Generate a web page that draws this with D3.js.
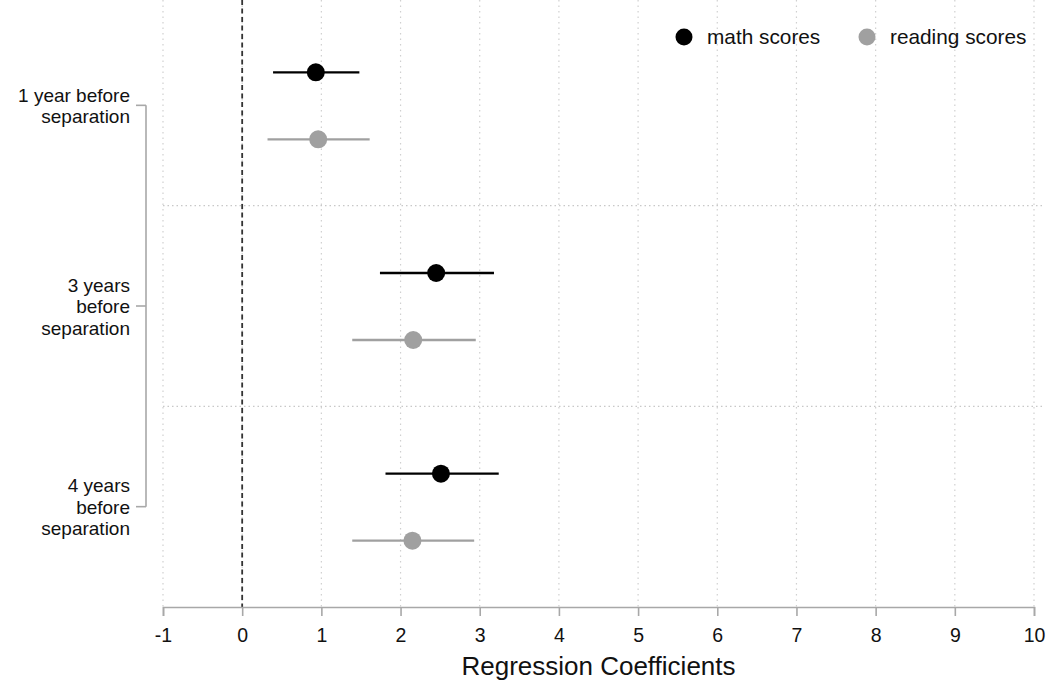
<!DOCTYPE html>
<html>
<head>
<meta charset="utf-8">
<script src="https://cdn.jsdelivr.net/npm/d3@7"></script>
<style>
  body { margin: 0; background: #fff; }
  text { font-family: Arial, "Liberation Sans", sans-serif; }
</style>
</head>
<body>
<div id="wrapper"></div>
<script>
const groups = [["1 year before", "separation"], ["3 years", "before", "separation"], ["4 years", "before", "separation"]]
const mathCoef = [0.93, 2.45, 2.51]
const mathLow = [0.39, 1.74, 1.81]
const mathHigh = [1.48, 3.18, 3.24]
const readCoef = [0.96, 2.16, 2.15]
const readLow = [0.32, 1.39, 1.39]
const readHigh = [1.61, 2.95, 2.93]
const xTicks = [-1, 0, 1, 2, 3, 4, 5, 6, 7, 8, 9, 10]

const width = 1049
const height = 682
const plot = { left: 163, right: 1034, top: 5, bottom: 607 }

const svg = d3.select("#wrapper").append("svg")
  .attr("width", width)
  .attr("height", height)

const xScale = d3.scaleLinear().domain([-1, 10]).range([plot.left, plot.right])
const yScale = d3.scaleBand().domain(d3.range(groups.length))
  .range([plot.top, plot.bottom])

// vertical grid
svg.append("g").selectAll("line")
  .data(xTicks)
  .enter().append("line")
  .attr("x1", d => xScale(d)).attr("x2", d => xScale(d))
  .attr("y1", 0).attr("y2", plot.bottom)
  .attr("stroke", "#d0d0d0")
  .attr("stroke-width", 1.2)
  .attr("stroke-dasharray", "1.5,4")

// horizontal separators between groups
svg.append("g").selectAll("line")
  .data([1, 2])
  .enter().append("line")
  .attr("x1", plot.left).attr("x2", width - 5)
  .attr("y1", d => yScale(d)).attr("y2", d => yScale(d))
  .attr("stroke", "#c8c8c8")
  .attr("stroke-width", 1.2)
  .attr("stroke-dasharray", "1.5,3")

// zero line
svg.append("line")
  .attr("x1", xScale(0)).attr("x2", xScale(0))
  .attr("y1", 0).attr("y2", plot.bottom)
  .attr("stroke", "#333")
  .attr("stroke-width", 1.8)
  .attr("stroke-dasharray", "5,3.5")

// x axis
const xAxis = svg.append("g")
  .attr("transform", `translate(0,${plot.bottom})`)
  .call(d3.axisBottom(xScale).tickValues(xTicks).tickSize(9).tickPadding(12).tickFormat(d3.format("d")))
xAxis.select(".domain").attr("stroke", "#a8a8a8").attr("stroke-width", 1.6)
xAxis.selectAll(".tick line").attr("stroke", "#a8a8a8").attr("stroke-width", 1.6)
xAxis.selectAll(".tick text")
  .attr("fill", "#111")
  .style("font-size", "19.5px")
  .text(d => d < 0 ? "-" + Math.abs(d) : d)

svg.append("text")
  .attr("x", (plot.left + plot.right) / 2)
  .attr("y", 675)
  .attr("text-anchor", "middle")
  .attr("fill", "#111")
  .style("font-size", "26px")
  .text("Regression Coefficients")

// y axis (bracket style)
const yCenter = i => yScale(i) + yScale.bandwidth() / 2
const yAxisX = 146
svg.append("line")
  .attr("x1", yAxisX).attr("x2", yAxisX)
  .attr("y1", yCenter(0)).attr("y2", yCenter(groups.length - 1))
  .attr("stroke", "#a8a8a8").attr("stroke-width", 1.6)
svg.append("g").selectAll("line")
  .data(d3.range(groups.length))
  .enter().append("line")
  .attr("x1", yAxisX - 10).attr("x2", yAxisX)
  .attr("y1", d => yCenter(d)).attr("y2", d => yCenter(d))
  .attr("stroke", "#a8a8a8").attr("stroke-width", 1.6)

const lineGap = 21.5
const labels = svg.append("g").selectAll("text")
  .data(groups)
  .enter().append("text")
  .attr("text-anchor", "end")
  .attr("fill", "#111")
  .style("font-size", "19px")
  .attr("y", (d, i) => yCenter(i) - (d.length - 1) * lineGap / 2 + 7)
labels.selectAll("tspan")
  .data(d => d)
  .enter().append("tspan")
  .attr("x", 130)
  .attr("dy", (d, i) => i === 0 ? 0 : lineGap)
  .text(d => d)

// series
const series = [
  { name: "math scores", color: "#000", coef: mathCoef, low: mathLow, high: mathHigh, offset: -33 },
  { name: "reading scores", color: "#a0a0a0", coef: readCoef, low: readLow, high: readHigh, offset: 34 },
]

series.forEach(s => {
  const g = svg.append("g")
  const idx = d3.range(s.coef.length)
  g.selectAll("line")
    .data(idx)
    .enter().append("line")
    .attr("x1", i => xScale(s.low[i]))
    .attr("x2", i => xScale(s.high[i]))
    .attr("y1", i => yCenter(i) + s.offset)
    .attr("y2", i => yCenter(i) + s.offset)
    .attr("stroke", s.color)
    .attr("stroke-width", 2.4)
  g.selectAll("circle")
    .data(idx)
    .enter().append("circle")
    .attr("cx", i => xScale(s.coef[i]))
    .attr("cy", i => yCenter(i) + s.offset)
    .attr("r", 9)
    .attr("fill", s.color)
})

// legend
const legend = svg.append("g")
const legendX = [684, 867]
series.forEach((s, i) => {
  legend.append("circle")
    .attr("cx", legendX[i]).attr("cy", 37).attr("r", 8.5)
    .attr("fill", s.color)
  legend.append("text")
    .attr("x", legendX[i] + 23).attr("y", 44)
    .attr("fill", "#111")
    .style("font-size", "20.8px")
    .text(s.name)
})
</script>
</body>
</html>
